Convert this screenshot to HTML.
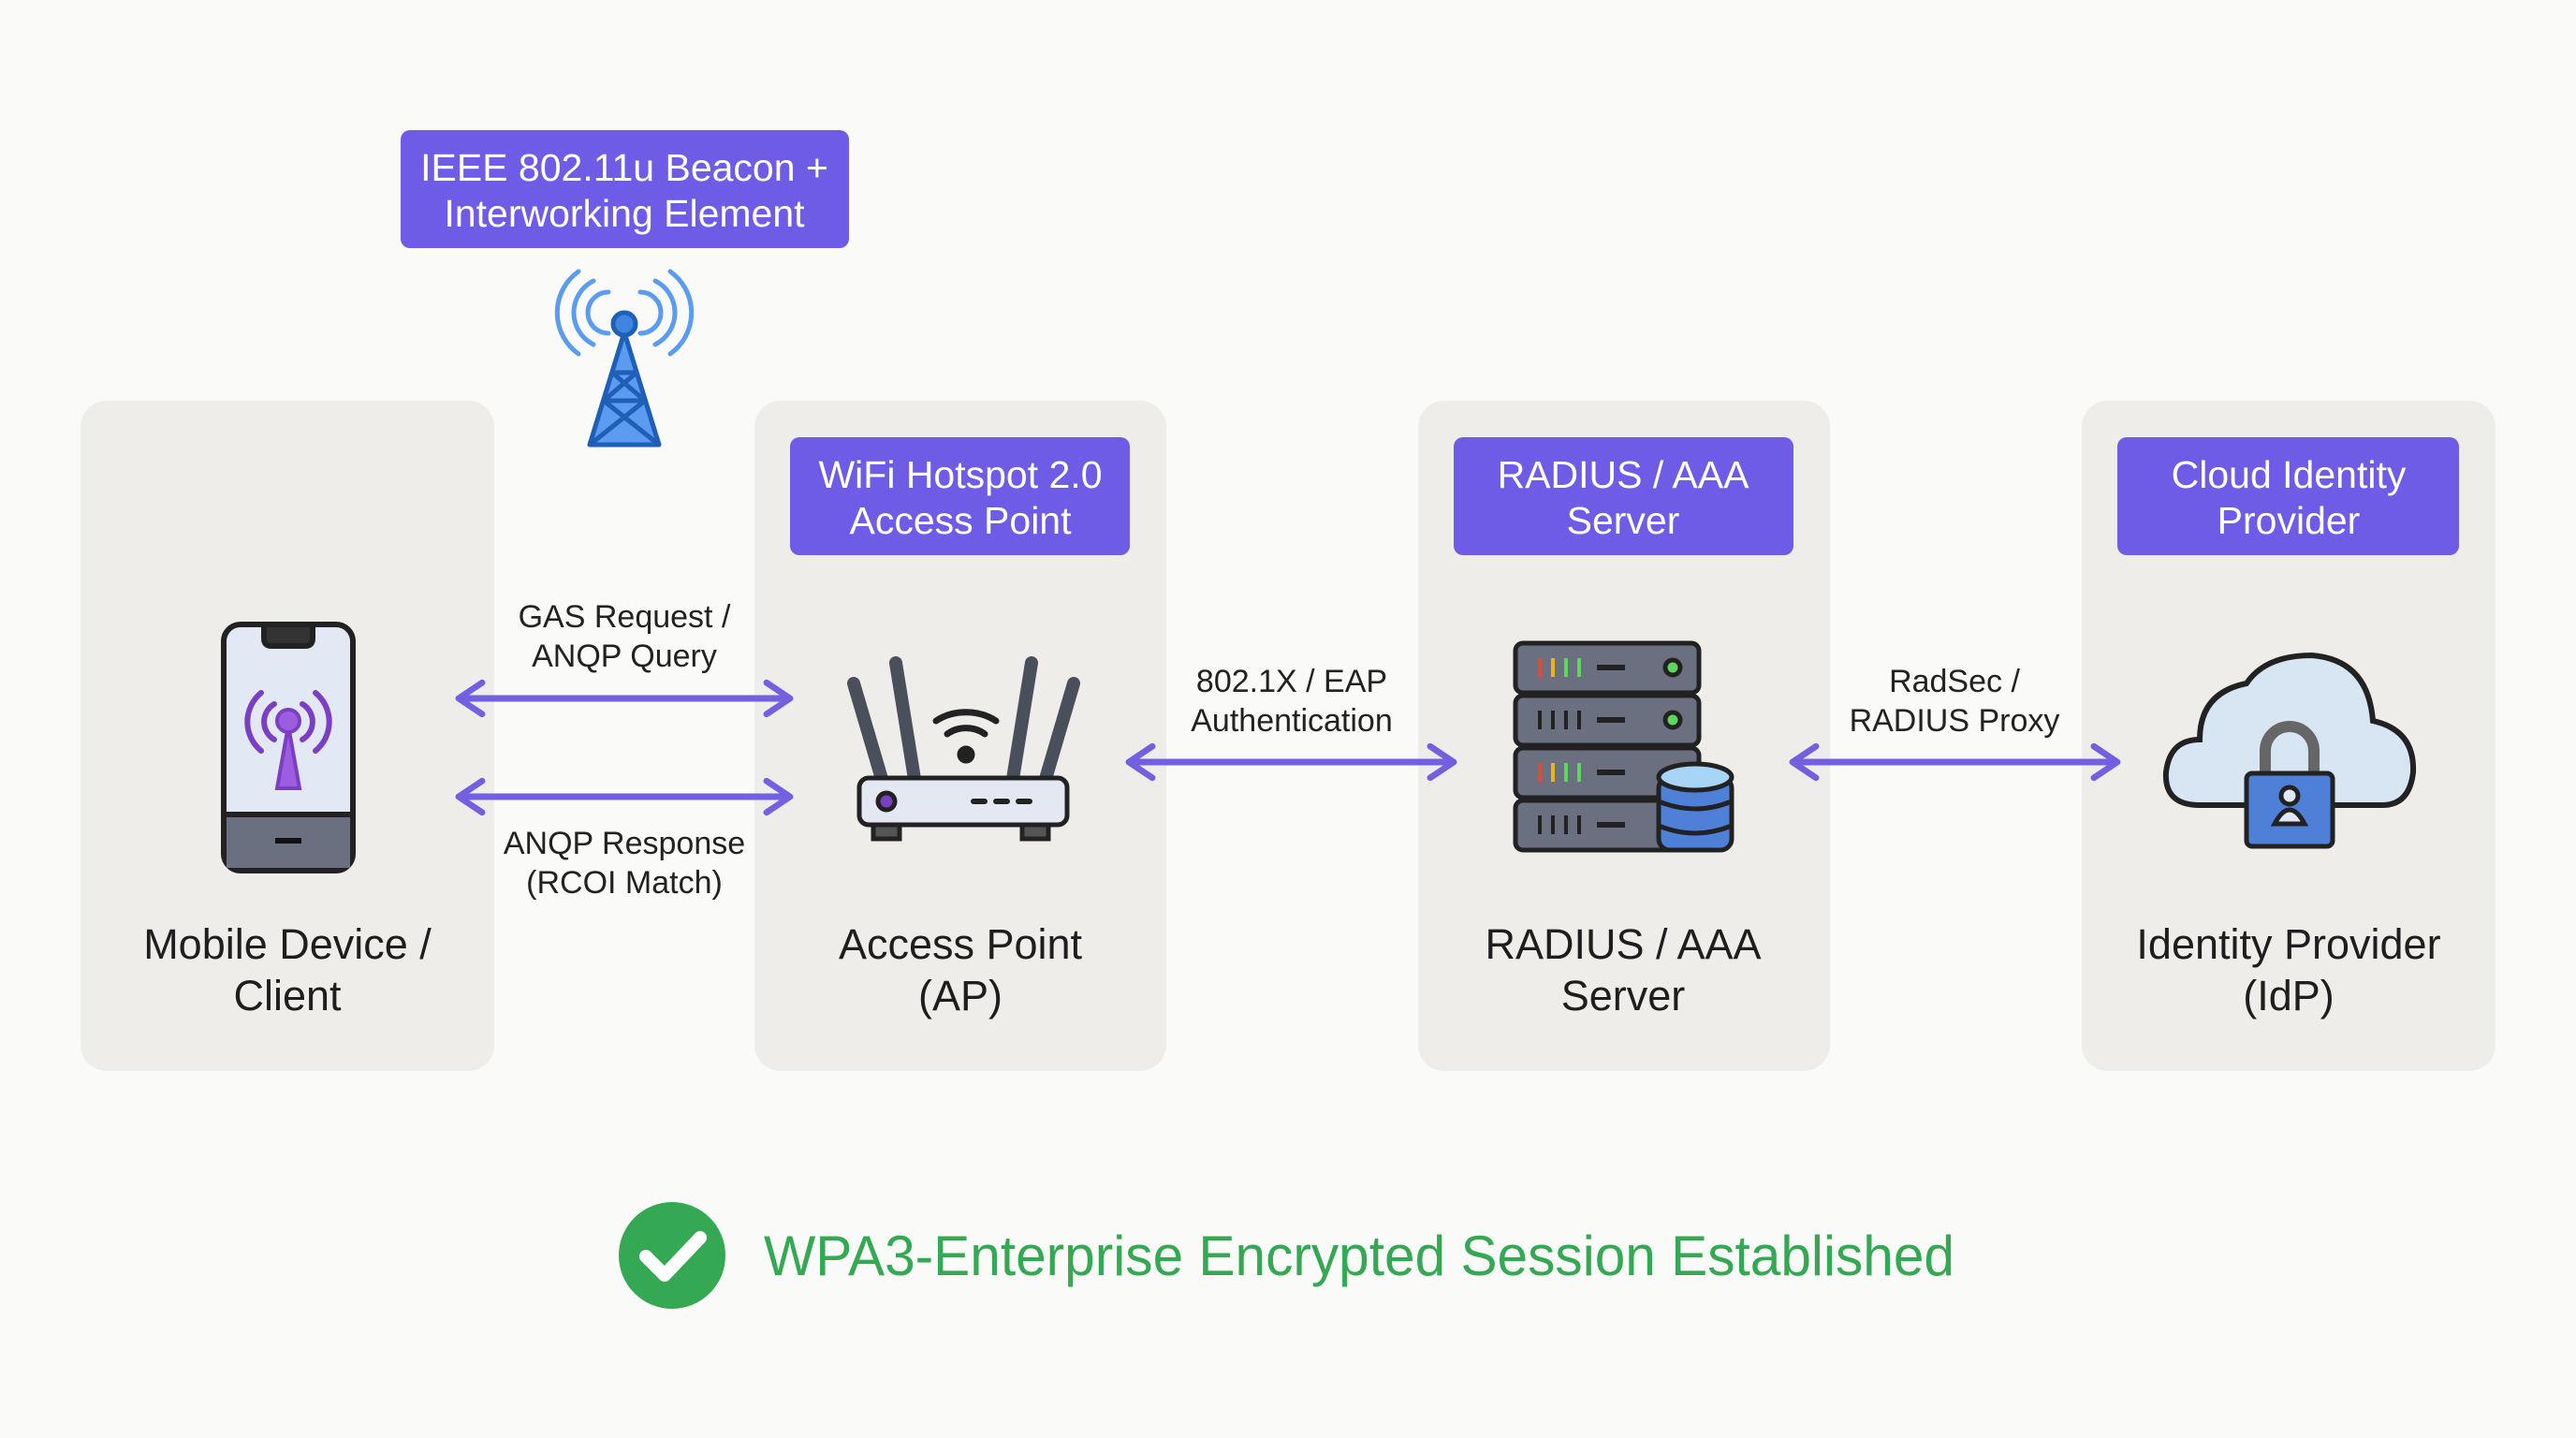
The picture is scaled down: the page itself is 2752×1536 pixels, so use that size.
<!DOCTYPE html>
<html><head><meta charset="utf-8"><style>
html,body{margin:0;padding:0;background:#fafaf8;}
svg{display:block;}
text{font-family:"Liberation Sans",sans-serif;}
</style></head><body>
<svg width="2752" height="1536" viewBox="0 0 2752 1536" xmlns="http://www.w3.org/2000/svg">
<rect width="2752" height="1536" fill="#fafaf8"/>
<defs>
<marker id="ah" viewBox="0 0 20 20" refX="14" refY="10" markerWidth="6" markerHeight="6" orient="auto-start-reverse" markerUnits="strokeWidth">
<path d="M3,2 L15,10 L3,18" fill="none" stroke="#7360e0" stroke-width="3.2" stroke-linecap="round" stroke-linejoin="round"/>
</marker>
</defs>
<g fill="#efede9">
<rect x="86" y="428" width="442" height="716" rx="28"/>
<rect x="806" y="428" width="440" height="716" rx="28"/>
<rect x="1515" y="428" width="440" height="716" rx="28"/>
<rect x="2224" y="428" width="442" height="716" rx="28"/>
</g>
<g fill="#6f5ce6">
<rect x="428" y="139" width="479" height="126" rx="10"/>
<rect x="844" y="467" width="363" height="126" rx="10"/>
<rect x="1553" y="467" width="363" height="126" rx="10"/>
<rect x="2262" y="467" width="365" height="126" rx="10"/>
</g>
<g fill="#fff" font-size="41" text-anchor="middle">
<text x="667" y="193">IEEE 802.11u Beacon +</text>
<text x="667" y="242">Interworking Element</text>
<text x="1026" y="521">WiFi Hotspot 2.0</text>
<text x="1026" y="570">Access Point</text>
<text x="1734" y="521">RADIUS / AAA</text>
<text x="1734" y="570">Server</text>
<text x="2445" y="521">Cloud Identity</text>
<text x="2445" y="570">Provider</text>
</g>
<g fill="none" stroke="#5a9cf0" stroke-width="5" stroke-linecap="round">
<path d="M650,312 a22,22 0 0 0 0,44"/><path d="M684,312 a22,22 0 0 1 0,44"/>
<path d="M634,300 a38,38 0 0 0 0,68"/><path d="M700,300 a38,38 0 0 1 0,68"/>
<path d="M618,290 a54,54 0 0 0 0,88"/><path d="M716,290 a54,54 0 0 1 0,88"/>
</g>
<g stroke="#1f5fb8" stroke-width="5" fill="#3d85e0" stroke-linejoin="round">
<path d="M667,355 L630,475 L704,475 Z" fill="#5a9cf0"/>
<path d="M654,398 L680,398 M645,428 L689,428 M654,398 L689,428 M680,398 L645,428 M645,428 L704,475 M689,428 L630,475" fill="none"/>
<circle cx="667" cy="346" r="12"/>
</g>
<g stroke="#222" stroke-width="6">
<rect x="239" y="667" width="138" height="263" rx="18" fill="#e2e8f4"/>
<rect x="242" y="870" width="132" height="57" fill="#6b7080" stroke="none"/>
<path d="M239,870 L377,870"/>
<path d="M282,670 L282,682 Q282,690 290,690 L326,690 Q334,690 334,682 L334,670" fill="#333"/>
<path d="M294,898 L322,898" stroke="#111"/>
</g>
<g fill="none" stroke="#7b3fc4" stroke-width="6" stroke-linecap="round">
<path d="M293,752 a22,22 0 0 0 0,38"/><path d="M323,752 a22,22 0 0 1 0,38"/>
<path d="M279,740 a40,40 0 0 0 0,62"/><path d="M337,740 a40,40 0 0 1 0,62"/>
</g>
<path d="M308,775 L296,842 L320,842 Z" fill="#9d5de0" stroke="#7b3fc4" stroke-width="4"/>
<circle cx="308" cy="770" r="12" fill="#9d5de0" stroke="#7b3fc4" stroke-width="4"/>
<g stroke="#222" stroke-width="5" stroke-linecap="round">
<path d="M912,730 L942,832" stroke="#4a4f5c" stroke-width="14"/>
<path d="M957,708 L977,832" stroke="#4a4f5c" stroke-width="14"/>
<path d="M1102,708 L1082,832" stroke="#4a4f5c" stroke-width="14"/>
<path d="M1147,730 L1117,832" stroke="#4a4f5c" stroke-width="14"/>
<rect x="933" y="878" width="28" height="18" fill="#555"/>
<rect x="1092" y="878" width="28" height="18" fill="#555"/>
<rect x="918" y="831" width="222" height="50" rx="10" fill="#e4e8f2"/>
<circle cx="947" cy="856" r="9" fill="#7b3fc4"/>
<path d="M1040,856 h12 M1064,856 h12 M1088,856 h12" stroke-width="6"/>
<g fill="none" stroke-width="7"><path d="M1000,770 a50,40 0 0 1 64,0"/><path d="M1012,784 a30,25 0 0 1 40,0"/></g>
<circle cx="1032" cy="806" r="7" fill="#222"/>
</g>
<g stroke="#222" stroke-width="5">
<rect x="1619" y="687" width="196" height="53" rx="8" fill="#6b7080"/>
<rect x="1619" y="743" width="196" height="53" rx="8" fill="#6b7080"/>
<rect x="1619" y="799" width="196" height="53" rx="8" fill="#6b7080"/>
<rect x="1619" y="855" width="196" height="53" rx="8" fill="#6b7080"/>
<path d="M1706,713 h30 M1706,769 h30 M1706,825 h30 M1706,881 h30" stroke-width="6"/>
<circle cx="1787" cy="713" r="8" fill="#5cd65c"/><circle cx="1787" cy="769" r="8" fill="#5cd65c"/>
<path d="M1645,759 v20 M1659,759 v20 M1673,759 v20 M1687,759 v20 M1645,871 v20 M1659,871 v20 M1673,871 v20 M1687,871 v20" stroke-width="4"/>
</g>
<g stroke-width="4">
<path d="M1645,703 v20 M1645,815 v20" stroke="#e04a3a"/>
<path d="M1659,703 v20 M1659,815 v20" stroke="#f0b020"/>
<path d="M1673,703 v20 M1687,703 v20 M1673,815 v20 M1687,815 v20" stroke="#5cd65c"/>
</g>
<g stroke="#222" stroke-width="5">
<rect x="1772" y="830" width="78" height="78" rx="12" fill="#4d80d6"/>
<ellipse cx="1811" cy="830" rx="39" ry="14" fill="#a8d4f5"/>
<path d="M1772,856 q39,16 78,0 M1772,882 q39,16 78,0" fill="none"/>
</g>
<path d="M2350,860 Q2312,860 2314,825 Q2318,790 2350,790 Q2350,740 2400,730 Q2420,700 2470,700 Q2530,705 2535,770 Q2580,780 2578,825 Q2574,860 2545,860 Z" fill="#d8e6f4" stroke="#222" stroke-width="6"/>
<g stroke="#222" stroke-width="5">
<path d="M2420,830 v-28 a26,26 0 0 1 52,0 v28" fill="none" stroke="#666" stroke-width="12"/>
<rect x="2400" y="826" width="92" height="78" rx="6" fill="#4d80d6"/>
<circle cx="2446" cy="850" r="9" fill="#dfe8f5"/>
<path d="M2430,880 q16,-30 32,0 Z" fill="#dfe8f5"/>
</g>
<g stroke="#7360e0" stroke-width="7" fill="none" marker-start="url(#ah)" marker-end="url(#ah)">
<line x1="492" y1="746" x2="842" y2="746"/>
<line x1="492" y1="851" x2="842" y2="851"/>
<line x1="1208" y1="814" x2="1551" y2="814"/>
<line x1="1917" y1="814" x2="2260" y2="814"/>
</g>
<g fill="#222" font-size="34" text-anchor="middle">
<text x="667" y="670">GAS Request /</text>
<text x="667" y="712">ANQP Query</text>
<text x="667" y="912">ANQP Response</text>
<text x="667" y="954">(RCOI Match)</text>
<text x="1380" y="739">802.1X / EAP</text>
<text x="1380" y="781">Authentication</text>
<text x="2088" y="739">RadSec /</text>
<text x="2088" y="781">RADIUS Proxy</text>
</g>
<g fill="#1e1e1e" font-size="45" text-anchor="middle">
<text x="307" y="1024">Mobile Device /</text>
<text x="307" y="1079">Client</text>
<text x="1026" y="1024">Access Point</text>
<text x="1026" y="1079">(AP)</text>
<text x="1734" y="1024">RADIUS / AAA</text>
<text x="1734" y="1079">Server</text>
<text x="2445" y="1024">Identity Provider</text>
<text x="2445" y="1079">(IdP)</text>
</g>
<circle cx="718" cy="1341" r="57" fill="#34a853"/>
<path d="M690,1342 L710,1362 L748,1322" fill="none" stroke="#fff" stroke-width="14" stroke-linecap="round" stroke-linejoin="round"/>
<text x="816" y="1362" font-size="60" fill="#34a853" textLength="1272" lengthAdjust="spacingAndGlyphs">WPA3-Enterprise Encrypted Session Established</text>
</svg>
</body></html>
